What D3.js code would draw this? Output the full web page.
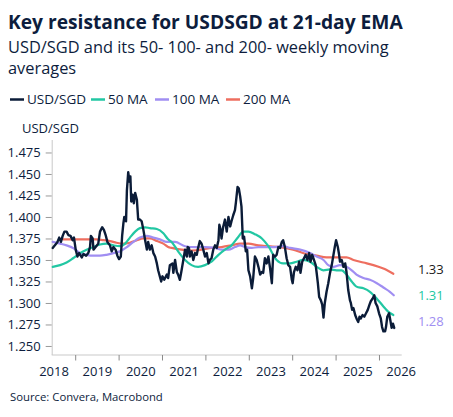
<!DOCTYPE html>
<html>
<head>
<meta charset="utf-8">
<script src="https://cdn.jsdelivr.net/npm/d3@7"></script>
<style>
  body { margin: 0; background: #fff; }
  svg { font-family: "Open Sans", "Noto Sans", sans-serif; }
</style>
</head>
<body>
<div id="chart"></div>
<script>
// decimal year, value (weekly close)
var usdsgd = [
  [2018.47,1.364],[2018.52,1.367],[2018.58,1.371],[2018.62,1.376],[2018.66,1.371],[2018.70,1.378],
  [2018.74,1.383],[2018.79,1.383],[2018.83,1.379],[2018.88,1.378],[2018.93,1.373],[2018.96,1.376],
  [2019.00,1.362],[2019.04,1.354],[2019.08,1.358],[2019.14,1.353],[2019.18,1.357],[2019.24,1.355],
  [2019.29,1.358],[2019.33,1.365],[2019.35,1.378],[2019.39,1.375],[2019.41,1.362],[2019.46,1.365],
  [2019.52,1.369],[2019.56,1.383],[2019.61,1.388],[2019.65,1.385],[2019.69,1.379],[2019.73,1.371],
  [2019.79,1.367],[2019.83,1.360],[2019.87,1.365],[2019.92,1.362],[2019.96,1.355],[2020.00,1.351],
  [2020.04,1.354],[2020.07,1.378],[2020.10,1.393],[2020.12,1.400],[2020.16,1.395],[2020.18,1.431],
  [2020.21,1.452],[2020.24,1.441],[2020.26,1.447],[2020.28,1.418],[2020.31,1.426],[2020.34,1.416],
  [2020.37,1.428],[2020.41,1.420],[2020.44,1.397],[2020.48,1.397],[2020.52,1.395],[2020.56,1.385],
  [2020.60,1.373],[2020.64,1.362],[2020.67,1.371],[2020.71,1.362],[2020.75,1.367],[2020.79,1.358],
  [2020.83,1.354],[2020.87,1.346],[2020.90,1.338],[2020.97,1.325],[2021.00,1.331],[2021.04,1.327],
  [2021.10,1.333],[2021.13,1.329],[2021.17,1.344],[2021.23,1.346],[2021.25,1.335],[2021.29,1.350],
  [2021.33,1.336],[2021.36,1.333],[2021.40,1.327],[2021.44,1.338],[2021.48,1.350],[2021.52,1.362],
  [2021.56,1.354],[2021.58,1.365],[2021.61,1.364],[2021.63,1.354],[2021.67,1.360],[2021.71,1.350],
  [2021.75,1.358],[2021.79,1.356],[2021.82,1.364],[2021.86,1.372],[2021.90,1.369],[2021.94,1.362],
  [2021.98,1.354],[2022.02,1.358],[2022.06,1.346],[2022.09,1.350],[2022.13,1.352],[2022.17,1.362],
  [2022.21,1.367],[2022.25,1.364],[2022.29,1.373],[2022.31,1.391],[2022.34,1.385],[2022.36,1.375],
  [2022.40,1.389],[2022.44,1.397],[2022.48,1.383],[2022.52,1.400],[2022.56,1.389],[2022.59,1.395],
  [2022.63,1.402],[2022.67,1.408],[2022.69,1.416],[2022.73,1.435],[2022.76,1.433],[2022.79,1.424],
  [2022.82,1.412],[2022.85,1.375],[2022.88,1.377],[2022.92,1.360],[2022.95,1.362],[2022.98,1.338],
  [2023.02,1.331],[2023.06,1.317],[2023.09,1.329],[2023.13,1.354],[2023.17,1.350],[2023.21,1.342],
  [2023.25,1.333],[2023.29,1.336],[2023.32,1.335],[2023.36,1.352],[2023.40,1.346],[2023.44,1.354],
  [2023.48,1.340],[2023.52,1.323],[2023.55,1.356],[2023.59,1.354],[2023.63,1.356],[2023.67,1.365],
  [2023.71,1.364],[2023.75,1.371],[2023.78,1.373],[2023.82,1.365],[2023.86,1.352],[2023.90,1.344],
  [2023.94,1.342],[2023.98,1.327],[2024.00,1.323],[2024.03,1.336],[2024.07,1.342],[2024.11,1.338],
  [2024.15,1.348],[2024.18,1.335],[2024.22,1.348],[2024.26,1.352],[2024.30,1.356],[2024.34,1.350],
  [2024.38,1.358],[2024.41,1.348],[2024.45,1.356],[2024.49,1.350],[2024.53,1.344],[2024.55,1.336],
  [2024.58,1.323],[2024.61,1.307],[2024.65,1.303],[2024.68,1.298],[2024.71,1.283],[2024.74,1.300],
  [2024.78,1.313],[2024.82,1.323],[2024.86,1.335],[2024.90,1.344],[2024.94,1.356],[2024.97,1.365],
  [2025.00,1.373],[2025.04,1.365],[2025.07,1.356],[2025.09,1.348],[2025.13,1.350],[2025.17,1.342],
  [2025.21,1.346],[2025.24,1.336],[2025.28,1.315],[2025.32,1.303],[2025.34,1.300],[2025.37,1.292],
  [2025.40,1.294],[2025.44,1.286],[2025.47,1.282],[2025.51,1.278],[2025.54,1.284],[2025.57,1.282],
  [2025.61,1.286],[2025.65,1.284],[2025.69,1.288],[2025.73,1.292],[2025.77,1.298],[2025.80,1.302],
  [2025.84,1.305],[2025.88,1.309],[2025.91,1.300],[2025.95,1.296],[2025.99,1.288],[2026.03,1.282],
  [2026.06,1.272],[2026.09,1.267],[2026.13,1.267],[2026.15,1.272],[2026.18,1.284],[2026.22,1.288],
  [2026.25,1.280],[2026.28,1.271],[2026.31,1.276],[2026.34,1.271]
];

var ma50 = [
  [2018.47,1.342],[2018.64,1.344],[2018.79,1.347],[2018.94,1.352],[2019.10,1.358],[2019.25,1.362],
  [2019.41,1.365],[2019.56,1.368],[2019.71,1.369],[2019.87,1.367],[2020.02,1.366],[2020.14,1.369],
  [2020.25,1.376],[2020.37,1.383],[2020.48,1.387],[2020.60,1.388],[2020.71,1.387],[2020.87,1.386],
  [2021.02,1.381],[2021.13,1.374],[2021.21,1.371],[2021.36,1.360],[2021.52,1.350],[2021.67,1.344],
  [2021.82,1.342],[2021.98,1.344],[2022.13,1.348],[2022.29,1.356],[2022.44,1.362],[2022.59,1.367],
  [2022.75,1.377],[2022.86,1.383],[2022.98,1.383],[2023.13,1.380],[2023.29,1.375],[2023.44,1.366],
  [2023.63,1.350],[2023.78,1.346],[2023.94,1.346],[2024.09,1.348],[2024.24,1.350],[2024.40,1.348],
  [2024.55,1.342],[2024.71,1.338],[2024.86,1.339],[2025.01,1.338],[2025.13,1.338],[2025.24,1.333],
  [2025.36,1.325],[2025.47,1.319],[2025.63,1.317],[2025.78,1.313],[2025.94,1.305],[2026.09,1.296],
  [2026.20,1.290],[2026.32,1.286]
];

var ma100 = [
  [2018.47,1.371],[2018.64,1.369],[2018.79,1.367],[2018.94,1.364],[2019.10,1.358],[2019.25,1.356],
  [2019.41,1.355],[2019.56,1.355],[2019.71,1.356],[2019.87,1.358],[2020.02,1.360],[2020.18,1.365],
  [2020.33,1.371],[2020.48,1.376],[2020.64,1.378],[2020.79,1.376],[2020.94,1.374],[2021.10,1.371],
  [2021.29,1.371],[2021.52,1.366],[2021.75,1.365],[2021.98,1.365],[2022.21,1.364],[2022.36,1.362],
  [2022.52,1.362],[2022.67,1.365],[2022.79,1.367],[2022.90,1.365],[2023.06,1.364],[2023.21,1.365],
  [2023.36,1.365],[2023.59,1.365],[2023.78,1.366],[2023.94,1.364],[2024.17,1.362],[2024.40,1.358],
  [2024.55,1.354],[2024.71,1.350],[2024.82,1.344],[2024.94,1.342],[2025.09,1.344],[2025.24,1.342],
  [2025.36,1.338],[2025.47,1.333],[2025.63,1.329],[2025.78,1.327],[2025.94,1.323],[2026.09,1.318],
  [2026.24,1.313],[2026.33,1.309]
];

var ma200 = [
  [2018.71,1.374],[2018.87,1.374],[2019.02,1.374],[2019.18,1.374],[2019.33,1.374],[2019.48,1.374],
  [2019.64,1.373],[2019.79,1.372],[2019.94,1.370],[2020.10,1.369],[2020.25,1.370],[2020.41,1.373],
  [2020.56,1.375],[2020.71,1.375],[2020.87,1.372],[2021.02,1.369],[2021.13,1.365],[2021.21,1.364],
  [2021.44,1.362],[2021.67,1.361],[2021.90,1.362],[2022.13,1.364],[2022.36,1.365],[2022.59,1.367],
  [2022.79,1.369],[2022.98,1.369],[2023.21,1.367],[2023.44,1.366],[2023.71,1.365],[2024.01,1.362],
  [2024.32,1.357],[2024.55,1.355],[2024.78,1.353],[2025.01,1.353],[2025.24,1.353],[2025.40,1.350],
  [2025.63,1.347],[2025.86,1.344],[2026.09,1.340],[2026.32,1.334]
];

var yTicks = [1.250, 1.275, 1.300, 1.325, 1.350, 1.375, 1.400, 1.425, 1.450, 1.475];
var years = [2018, 2019, 2020, 2021, 2022, 2023, 2024, 2025, 2026];
var seriesNames = ['USD/SGD', '50 MA', '100 MA', '200 MA'];
var endLabels = ['1.33', '1.31', '1.28'];

var colors = { usd: '#0b1c38', ma50: '#22c7a3', ma100: '#a08ef2', ma200: '#ee6e5f', text: '#0d1d3d', axis: '#c9c9c9' };

var W = 453, H = 417;
var svg = d3.select('#chart').append('svg').attr('width', W).attr('height', H);

// shrink/grow a text element so it spans a given width
function fitWidth(sel, w) {
  var len = sel.node().getComputedTextLength();
  var fs = parseFloat(sel.style('font-size'));
  sel.style('font-size', (fs * w / len) + 'px');
}

// headings
var title = svg.append('text').attr('x', 8).attr('y', 29)
  .style('font-size', '18px').style('font-weight', 700).style('fill', colors.text)
  .text('Key resistance for USDSGD at 21-day EMA');
fitWidth(title, 395);

var sub1 = svg.append('text').attr('x', 8).attr('y', 53)
  .style('font-size', '16px').style('fill', colors.text)
  .text('USD/SGD and its 50- 100- and 200- weekly moving');
fitWidth(sub1, 381);
svg.append('text').attr('x', 8).attr('y', 74)
  .style('font-size', sub1.style('font-size')).style('fill', colors.text)
  .text('averages');

// legend
var legendItems = [
  { name: seriesNames[0], color: colors.usd, x0: 10, tx: 27 },
  { name: seriesNames[1], color: colors.ma50, x0: 91, tx: 108 },
  { name: seriesNames[2], color: colors.ma100, x0: 155, tx: 172 },
  { name: seriesNames[3], color: colors.ma200, x0: 226, tx: 243 }
];
var lg = svg.append('g').attr('class', 'legend');
legendItems.forEach(function (d) {
  lg.append('line').attr('x1', d.x0).attr('x2', d.x0 + 14).attr('y1', 99.5).attr('y2', 99.5)
    .style('stroke', d.color).style('stroke-width', 2.5);
  lg.append('text').attr('x', d.tx).attr('y', 104)
    .style('font-size', '13.5px').style('fill', colors.text).text(d.name);
});

// scales
var x = d3.scaleLinear().domain([2018.447, 2026.512]).range([51.7, 401.7]);
var y = d3.scaleLinear().domain([1.2395, 1.4895]).range([355, 140]);

// axis title
svg.append('text').attr('x', 22).attr('y', 133)
  .style('font-size', '13px').style('fill', colors.text).text('USD/SGD');

// y axis
var yAxis = svg.append('g').attr('transform', 'translate(51.7,0)')
  .call(d3.axisLeft(y).tickValues(yTicks).tickFormat(d3.format('.3f')).tickSize(6).tickPadding(5));
yAxis.select('.domain').attr('d', 'M0.5,' + y.range()[1] + 'V' + y.range()[0]).style('stroke', colors.axis);
yAxis.selectAll('.tick line').style('stroke', '#9a9a9a');
yAxis.selectAll('.tick text').style('font-size', '13px').style('fill', colors.text)
  .style('font-family', '"Open Sans", sans-serif');

// x axis: ticks at year boundaries, labels at mid-year
var xAxis = svg.append('g').attr('transform', 'translate(0,355)');
xAxis.append('line').attr('x1', x.range()[0]).attr('x2', x.range()[1]).attr('y1', 0).attr('y2', 0)
  .style('stroke', colors.axis).style('stroke-width', 1.2);
xAxis.selectAll('line.tk').data(years.slice(1).filter(function (yr) { return x(yr) < x.range()[1]; }))
  .enter().append('line').attr('class', 'tk')
  .attr('x1', function (d) { return x(d); }).attr('x2', function (d) { return x(d); })
  .attr('y1', 0).attr('y2', 5.5).style('stroke', '#8a8a8a');
xAxis.selectAll('text').data(years).enter().append('text')
  .attr('x', function (d) { return x(d + 0.5); }).attr('y', 21)
  .style('text-anchor', 'middle').style('font-size', '13px').style('fill', colors.text)
  .text(function (d) { return d; });

// lines
var line = d3.line().x(function (d) { return x(d[0]); }).y(function (d) { return y(d[1]); });
var smooth = d3.line().x(function (d) { return x(d[0]); }).y(function (d) { return y(d[1]); })
  .curve(d3.curveMonotoneX);

var plot = svg.append('g').style('fill', 'none').style('stroke-linejoin', 'round').style('stroke-linecap', 'round');
plot.append('path').attr('d', smooth(ma200)).style('stroke', colors.ma200).style('stroke-width', 2.2);
plot.append('path').attr('d', smooth(ma100)).style('stroke', colors.ma100).style('stroke-width', 2.2);
plot.append('path').attr('d', smooth(ma50)).style('stroke', colors.ma50).style('stroke-width', 2.2);
plot.append('path').attr('d', line(usdsgd)).style('stroke', colors.usd).style('stroke-width', 2.4);

// end-of-series labels
var endColors = ['#1b1b1b', colors.ma50, colors.ma100];
var endY = [274, 300, 326];
endLabels.forEach(function (t, i) {
  svg.append('text').attr('x', 418).attr('y', endY[i])
    .style('font-size', '13px').style('fill', endColors[i]).text(t);
});

// source
var src = svg.append('text').attr('x', 10).attr('y', 401)
  .style('font-size', '11px').style('fill', colors.text).text('Source: Convera, Macrobond');
fitWidth(src, 153);
</script>
</body>
</html>
